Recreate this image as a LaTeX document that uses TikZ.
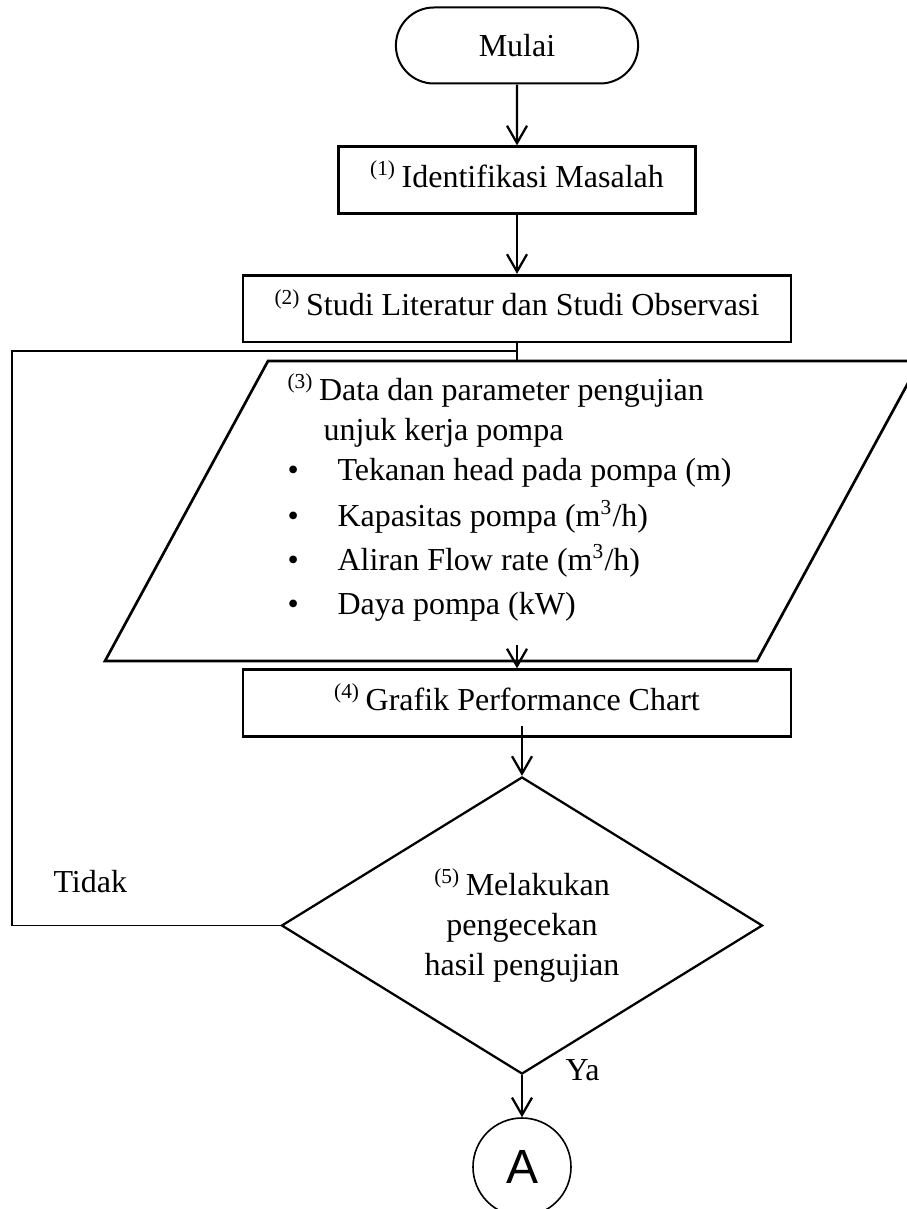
\documentclass[tikz,border=0pt]{standalone}
\usepackage{fontspec}
\setmainfont{Liberation Serif}
\newfontfamily\arialfont{Liberation Sans}
\usetikzlibrary{arrows.meta,shapes.geometric,shapes.misc}

\tikzset{
  proc/.style={draw,line width=1pt,minimum width=#1,minimum height=25pt,inner sep=0pt,text depth=4.5pt},
  arr/.style={-{Straight Barb[length=6.5pt,width=7.5pt]},line width=0.85pt},
  txt/.style={anchor=base west,inner sep=0pt}
}

\begin{document}
\begin{tikzpicture}[x=0.375pt,y=-0.375pt,font=\fontsize{12}{15}\selectfont]
        \useasboundingbox (0,0) rectangle (907,1209);
        \node[draw,rounded rectangle,line width=0.75pt,minimum width=97.5pt,minimum height=28.5pt] (mulai) at (517,45.5) {Mulai};
        \node[proc=134pt] (iden) at (517,180) {\textsuperscript{(1)}\,Identifikasi Masalah};
        \node[proc=205.5pt] (studi) at (517,308.5) {\textsuperscript{(2)}\,Studi Literatur dan Studi Observasi};
        % data input
        \draw[line width=1pt] (268,361) coordinate (ptl) -- (920,361) -- (757,661) -- (105,661) coordinate (pbl) -- cycle;
        \node[txt] (data1) at (287,400) {\textsuperscript{(3)}\,Data dan parameter pengujian};
        \node[txt] (data2) at (323,440) {unjuk kerja pompa};
        \node[txt] (data3) at (287,480) {\makebox[18.75pt][l]{\textbullet}Tekanan head pada pompa (m)};
        \node[txt] (data4) at (287,526) {\makebox[18.75pt][l]{\textbullet}Kapasitas pompa (m\textsuperscript{3}/h)};
        \node[txt] (data5) at (287,570) {\makebox[18.75pt][l]{\textbullet}Aliran Flow rate (m\textsuperscript{3}/h)};
        \node[txt] (data6) at (287,614) {\makebox[18.75pt][l]{\textbullet}Daya pompa (kW)};
        \node[proc=205.5pt] (grafik) at (517,703) {\textsuperscript{(4)}\,Grafik Performance Chart};
        \node[draw,diamond,aspect=1.6,line width=0.85pt,minimum width=180.4pt,minimum height=111.4pt,inner sep=0pt,align=center] (cek) at (522,925.5) {\textsuperscript{(5)}\,Melakukan\\pengecekan\\hasil pengujian};
        \node[draw,circle,line width=0.6pt,minimum size=36.75pt,inner sep=0pt,font=\arialfont\fontsize{18}{18}\selectfont] (A) at (522,1167) {A};
        \node[txt] (tidak) at (53,892) {Tidak};
        \node[txt] (ya) at (565,1080) {Ya};
        % connectors
        \coordinate (pout) at (517,645);
        \coordinate (gout) at (522,726);
        \coordinate (lp) at (12,351);
        \draw[arr] (mulai) -- (iden);
        \draw[arr] (iden) -- (studi);
        \draw[line width=0.85pt] (studi.south) -- (studi.south |- ptl);
        \draw[arr] (pout) -- (grafik.north);
        \draw[arr] (gout) -- (cek.north);
        \draw[arr] (cek.south) -- (A.north);
        \draw[line width=0.5pt] (cek.west) -| (lp) -- (lp -| studi.south);
\end{tikzpicture}
\end{document}
